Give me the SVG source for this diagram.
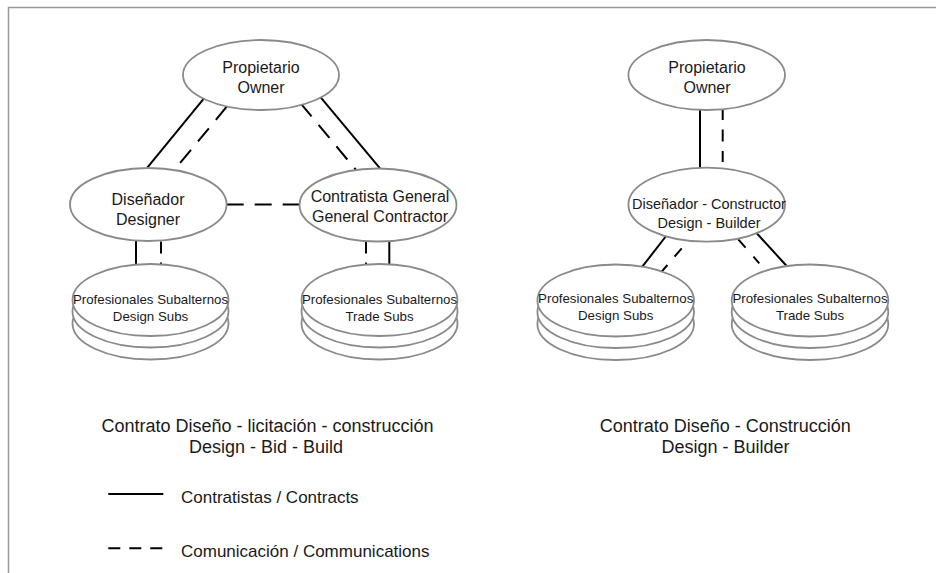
<svg xmlns="http://www.w3.org/2000/svg" width="936" height="573" viewBox="0 0 936 573">
<style>
.n{fill:#fff;stroke:#8a8a8a;stroke-width:1.8}
.t{font-family:"Liberation Sans",Arial,sans-serif;fill:#1a1a1a;text-anchor:middle}
.s{stroke:#000;stroke-width:2;fill:none}
.d{stroke:#000;stroke-width:2;fill:none;stroke-dasharray:17 11}
.v{stroke:#000;stroke-width:2;fill:none;stroke-dasharray:12 9}
</style>
<rect width="936" height="573" fill="#fff"/>
<path d="M8.5 573V7.5H936" fill="none" stroke="#999" stroke-width="1.5"/>

<g id="connectors">
<line class="s" x1="204" y1="98.3" x2="147.3" y2="167.7"/>
<line class="d" x1="226.7" y1="106.7" x2="179.3" y2="164"/>
<line class="s" x1="320.7" y1="97.3" x2="380" y2="168.3"/>
<line class="d" x1="300.7" y1="103.3" x2="356" y2="170"/>
<line class="d" x1="226.7" y1="204.5" x2="300" y2="204.5"/>
<line class="s" x1="136" y1="240" x2="136" y2="264"/>
<line class="v" x1="161" y1="241.5" x2="161" y2="265"/>
<line class="v" x1="366" y1="241.5" x2="366" y2="265"/>
<line class="s" x1="389.3" y1="240" x2="389.3" y2="264"/>
<line class="s" x1="700" y1="109" x2="700" y2="168"/>
<line class="v" x1="722.7" y1="108" x2="722.7" y2="162" style="stroke-dasharray:12 9.5"/>
<line class="s" x1="665.7" y1="236.5" x2="642.3" y2="266.7"/>
<line class="s" x1="757" y1="233.5" x2="786.7" y2="266"/>
<line class="v" x1="681.7" y1="248.3" x2="661.7" y2="271.7" style="stroke-dasharray:11 11"/>
<line class="v" x1="738.3" y1="239.3" x2="759.3" y2="263.3" style="stroke-dasharray:11 12"/>
</g>

<g id="owner-left">
<ellipse class="n" cx="261" cy="75" rx="78" ry="35"/>
<text class="t" font-size="16" x="261" y="73.3">Propietario</text>
<text class="t" font-size="16" x="261" y="93.3">Owner</text>
</g>
<g id="designer">
<ellipse class="n" cx="148.3" cy="204.5" rx="78.3" ry="36.5"/>
<text class="t" font-size="16" x="148" y="205">Diseñador</text>
<text class="t" font-size="16" x="148" y="225">Designer</text>
</g>
<g id="contractor">
<ellipse class="n" cx="378" cy="205" rx="78.5" ry="36.5"/>
<text class="t" font-size="16" x="380" y="201.7">Contratista General</text>
<text class="t" font-size="16" x="380" y="221.7">General Contractor</text>
</g>
<g id="design-subs-left">
<ellipse class="n" cx="150.5" cy="323.5" rx="78" ry="36"/>
<ellipse class="n" cx="150.5" cy="311.5" rx="78" ry="36"/>
<ellipse class="n" cx="150.5" cy="300" rx="78" ry="36"/>
<text class="t" font-size="13.3" x="150.5" y="304">Profesionales Subalternos</text>
<text class="t" font-size="13.3" x="150.5" y="320.7">Design Subs</text>
</g>
<g id="trade-subs-left">
<ellipse class="n" cx="379.5" cy="323.5" rx="78" ry="36"/>
<ellipse class="n" cx="379.5" cy="311.5" rx="78" ry="36"/>
<ellipse class="n" cx="379.5" cy="300" rx="78" ry="36"/>
<text class="t" font-size="13.3" x="379.5" y="304">Profesionales Subalternos</text>
<text class="t" font-size="13.3" x="379.5" y="320.7">Trade Subs</text>
</g>

<g id="owner-right">
<ellipse class="n" cx="706.7" cy="75" rx="78.3" ry="35"/>
<text class="t" font-size="16" x="707" y="73.3">Propietario</text>
<text class="t" font-size="16" x="707" y="92.7">Owner</text>
</g>
<g id="design-builder">
<ellipse class="n" cx="706.7" cy="204.7" rx="78.3" ry="37"/>
<text class="t" font-size="14.5" x="709" y="209.3">Diseñador - Constructor</text>
<text class="t" font-size="14.5" x="709" y="228.3">Design - Builder</text>
</g>
<g id="design-subs-right">
<ellipse class="n" cx="615.7" cy="324" rx="78.3" ry="36"/>
<ellipse class="n" cx="615.7" cy="312" rx="78.3" ry="36"/>
<ellipse class="n" cx="615.7" cy="300.5" rx="78.3" ry="36"/>
<text class="t" font-size="13.3" x="615.7" y="302.7">Profesionales Subalternos</text>
<text class="t" font-size="13.3" x="615.7" y="320">Design Subs</text>
</g>
<g id="trade-subs-right">
<ellipse class="n" cx="810" cy="324" rx="78.3" ry="36"/>
<ellipse class="n" cx="810" cy="312" rx="78.3" ry="36"/>
<ellipse class="n" cx="810" cy="300.5" rx="78.3" ry="36"/>
<text class="t" font-size="13.3" x="810" y="302.7">Profesionales Subalternos</text>
<text class="t" font-size="13.3" x="810" y="320">Trade Subs</text>
</g>

<g id="titles">
<text class="t" font-size="18" x="267.5" y="431.7">Contrato Diseño - licitación - construcción</text>
<text class="t" font-size="18" x="266" y="453.3">Design - Bid - Build</text>
<text class="t" font-size="18" x="725.3" y="431.7">Contrato Diseño - Construcción</text>
<text class="t" font-size="18" x="725.5" y="453.3">Design - Builder</text>
</g>

<g id="legend">
<line class="s" x1="108.3" y1="494" x2="163.3" y2="494"/>
<text class="t" font-size="17" x="181" y="503.3" style="text-anchor:start">Contratistas / Contracts</text>
<line class="s" x1="108.3" y1="548.3" x2="163.3" y2="548.3" style="stroke-dasharray:12 9"/>
<text class="t" font-size="17" x="181" y="556.7" style="text-anchor:start">Comunicación / Communications</text>
</g>
</svg>
